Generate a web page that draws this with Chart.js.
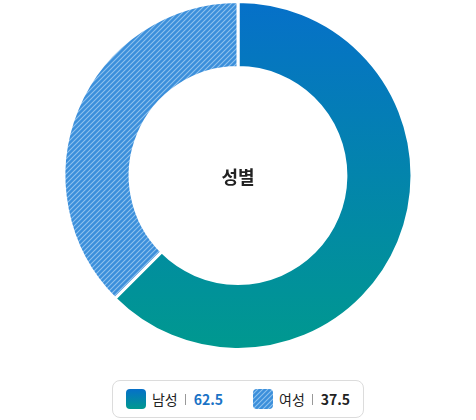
<!DOCTYPE html>
<html lang="ko">
<head>
<meta charset="utf-8">
<script src="https://cdn.jsdelivr.net/npm/chart.js@4/dist/chart.umd.min.js"></script>
<style>
    html, body { margin: 0; padding: 0; background: #fff; }
    body { width: 476px; height: 420px; overflow: hidden; font-family: "Noto Sans CJK KR", "Noto Sans", sans-serif; }
    #wrap { position: relative; width: 476px; height: 351px; }
    .legend {
        position: absolute; left: 112px; top: 380px; width: 250px; height: 36px;
        border: 1px solid #dcdcdc; border-radius: 8px; box-sizing: content-box;
        display: flex; align-items: center; justify-content: center; gap: 30px;
    }
    .item { display: flex; align-items: center; font-size: 14px; color: #222; }
    .icon { width: 20px; height: 20px; border-radius: 4px; margin-right: 6px; }
    .sep { width: 1px; height: 11px; background: #999; margin: 0 8px 0 7px; }
    .val { font-weight: 600; font-size: 14px; }
</style>
</head>
<body>
<div id="wrap"><canvas id="genderChart"></canvas></div>
<div class="legend" id="legend"></div>

<script>
// ---- Daten ----
const labels = ['남성', '여성'];
const values = [62.5, 37.5];
const centerTitle = '성별';

// ---- Muster / Verlauf ----
function makeHatch() {
    const c = document.createElement('canvas');
    c.width = 5; c.height = 5;
    const g = c.getContext('2d');
    g.fillStyle = '#3b8fdb';
    g.fillRect(0, 0, 5, 5);
    g.strokeStyle = '#8fc2ee';
    g.lineWidth = 1.1;
    g.beginPath();
    g.moveTo(-1, 6); g.lineTo(6, -1);
    g.moveTo(-1, 1); g.lineTo(1, -1);
    g.moveTo(4, 6); g.lineTo(6, 4);
    g.stroke();
    return c;
}
const hatchCanvas = makeHatch();

function maleGradient(ctx, area) {
    const grad = ctx.createLinearGradient(0, area.top, 0, area.bottom);
    grad.addColorStop(0, '#0670c9');
    grad.addColorStop(1, '#00998f');
    return grad;
}

const centerText = {
    id: 'centerText',
    afterDraw(chart) {
        const { ctx, chartArea } = chart;
        const x = (chartArea.left + chartArea.right) / 2;
        const y = (chartArea.top + chartArea.bottom) / 2 + 2;
        ctx.save();
        ctx.font = 'bold 18px "Noto Sans CJK KR"';
        ctx.fillStyle = '#222';
        ctx.textAlign = 'center';
        ctx.textBaseline = 'middle';
        ctx.fillText(centerTitle, x, y);
        ctx.restore();
    }
};

const ctx = document.getElementById('genderChart').getContext('2d');
const hatch = ctx.createPattern(hatchCanvas, 'repeat');

new Chart(ctx, {
    type: 'doughnut',
    data: {
        labels: labels,
        datasets: [{
            data: values,
            backgroundColor: function (c) {
                if (c.dataIndex === 1) return hatch;
                const area = c.chart.chartArea;
                if (!area) return '#0670c9';
                return maleGradient(c.chart.ctx, area);
            },
            borderColor: '#fff',
            borderWidth: 3,
            hoverOffset: 0
        }]
    },
    options: {
        responsive: true,
        maintainAspectRatio: false,
        animation: false,
        cutout: '62%',
        layout: { padding: 0 },
        plugins: { legend: { display: false }, tooltip: { enabled: false } }
    },
    plugins: [centerText]
});

// ---- Legende ----
const legend = document.getElementById('legend');
labels.forEach((lab, i) => {
    const item = document.createElement('div');
    item.className = 'item';
    const icon = document.createElement('span');
    icon.className = 'icon';
    if (i === 0) {
        icon.style.background = 'linear-gradient(#0670c9, #00998f)';
    } else {
        icon.style.backgroundImage = 'url(' + hatchCanvas.toDataURL() + ')';
    }
    const name = document.createElement('span');
    name.textContent = lab;
    const sep = document.createElement('span');
    sep.className = 'sep';
    const val = document.createElement('span');
    val.className = 'val';
    val.textContent = values[i];
    val.style.color = i === 0 ? '#1a73c6' : '#222';
    item.append(icon, name, sep, val);
    legend.appendChild(item);
});
</script>
</body>
</html>
